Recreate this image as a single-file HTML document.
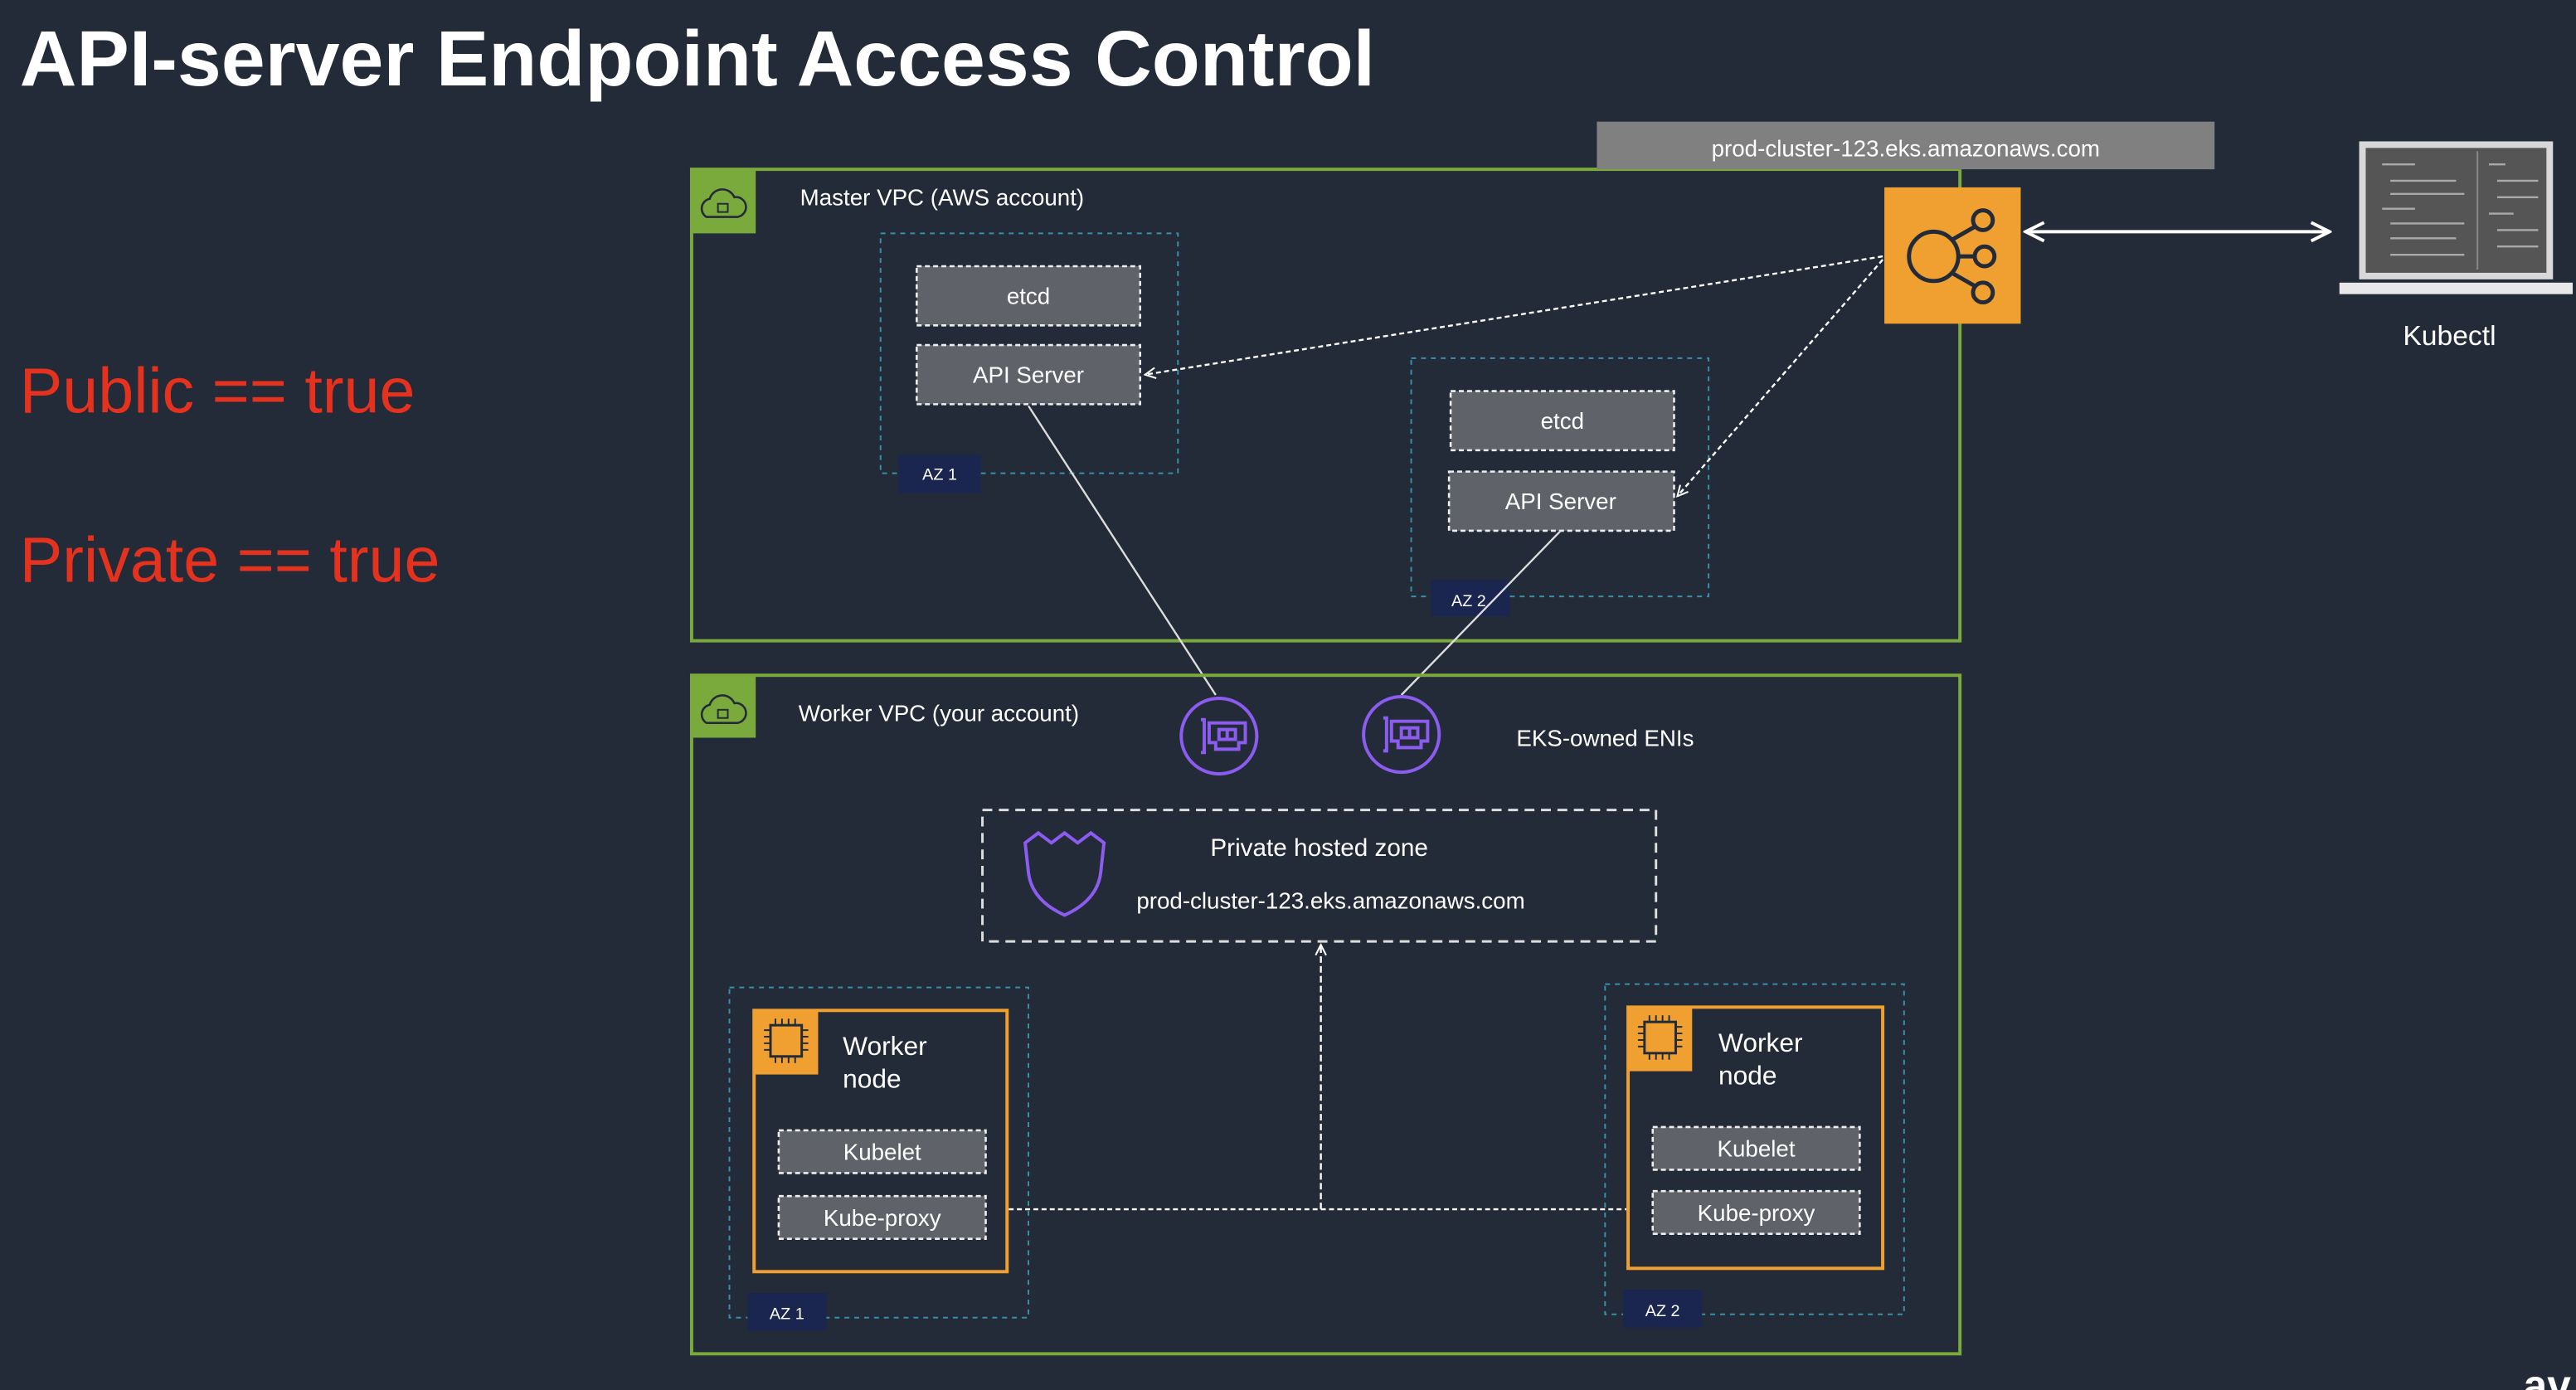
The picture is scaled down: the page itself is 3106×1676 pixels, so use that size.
<!DOCTYPE html>
<html><head><meta charset="utf-8"><style>
html,body{margin:0;padding:0;background:#232b38;}
svg{display:block;}
text{font-family:"Liberation Sans",sans-serif;fill:#fff;}
</style></head><body>
<svg width="3106" height="1676" viewBox="0 0 1568 846" xmlns="http://www.w3.org/2000/svg">
<defs>
<marker id="ah" viewBox="0 0 10 10" refX="9" refY="5" markerWidth="8" markerHeight="8" orient="auto-start-reverse" markerUnits="userSpaceOnUse"><path d="M1,1 L9,5 L1,9" fill="none" stroke="#fff" stroke-width="1.3"/></marker>
<marker id="ah2" viewBox="0 0 10 10" refX="9" refY="5" markerWidth="14" markerHeight="14" orient="auto-start-reverse" markerUnits="userSpaceOnUse"><path d="M1,1 L9,5 L1,9" fill="none" stroke="#fff" stroke-width="1.4"/></marker>
</defs>
<rect width="1568" height="846" fill="#232b38"/>
<text x="12" y="52" font-size="48" font-weight="bold">API-server Endpoint Access Control</text>
<text x="12" y="251" font-size="39" style="fill:#e5321f">Public == true</text>
<text x="12" y="354" font-size="39" style="fill:#e5321f">Private == true</text>

<!-- Master VPC -->
<rect x="421" y="103" width="772" height="287" fill="none" stroke="#7aa93c" stroke-width="2"/>
<rect x="421" y="103" width="39" height="39" fill="#7aa93c"/>
<path d="M430,132 a6,6 0 0 1 2,-11 a8,8 0 0 1 15,-1 a6,6 0 0 1 2,12 z" fill="none" stroke="#232b38" stroke-width="1.3"/>
<rect x="437" y="124" width="6" height="5" fill="none" stroke="#232b38" stroke-width="1"/>
<text x="487" y="125" font-size="14">Master VPC (AWS account)</text>

<rect x="972" y="74" width="376" height="29" fill="#808080"/>
<text x="1160" y="95" font-size="14" text-anchor="middle">prod-cluster-123.eks.amazonaws.com</text>

<rect x="1147" y="114" width="83" height="83" fill="#f0a030"/>
<g fill="none" stroke="#232b38" stroke-width="2.5">
<circle cx="1177" cy="156" r="15"/><circle cx="1207" cy="134" r="6"/><circle cx="1208" cy="156" r="6"/><circle cx="1207" cy="178" r="6"/>
<line x1="1188" y1="146" x2="1202" y2="138"/><line x1="1192" y1="156" x2="1202" y2="156"/><line x1="1188" y1="166" x2="1202" y2="174"/>
</g>
<line x1="1233" y1="141" x2="1418" y2="141" stroke="#fff" stroke-width="2" marker-start="url(#ah2)" marker-end="url(#ah2)"/>

<!-- laptop -->
<rect x="1436" y="86" width="118" height="84" fill="#d8d8d8"/>
<rect x="1440" y="90" width="110" height="76" fill="#555"/>
<line x1="1508" y1="92" x2="1508" y2="164" stroke="#888" stroke-width="1"/>
<g stroke="#aaa" stroke-width="1.2">
<line x1="1450" y1="100" x2="1470" y2="100"/><line x1="1455" y1="110" x2="1495" y2="110"/><line x1="1455" y1="118" x2="1500" y2="118"/><line x1="1450" y1="127" x2="1470" y2="127"/><line x1="1455" y1="136" x2="1500" y2="136"/><line x1="1455" y1="145" x2="1495" y2="145"/><line x1="1455" y1="155" x2="1500" y2="155"/>
<line x1="1515" y1="100" x2="1525" y2="100"/><line x1="1520" y1="110" x2="1545" y2="110"/><line x1="1520" y1="120" x2="1545" y2="120"/><line x1="1515" y1="130" x2="1530" y2="130"/><line x1="1520" y1="140" x2="1545" y2="140"/><line x1="1520" y1="150" x2="1545" y2="150"/>
</g>
<rect x="1424" y="172" width="142" height="7" fill="#e8e8e8"/>
<text x="1491" y="210" font-size="17" text-anchor="middle">Kubectl</text>

<!-- AZ1 master -->
<rect x="536" y="142" width="181" height="146" fill="none" stroke="#3a8fa8" stroke-width="1" stroke-dasharray="3,3"/>
<rect x="558" y="162" width="136" height="36" fill="#5f6269" stroke="#eee" stroke-width="1.3" stroke-dasharray="3,2"/>
<text x="626" y="185" font-size="14" text-anchor="middle">etcd</text>
<rect x="558" y="210" width="136" height="36" fill="#5f6269" stroke="#eee" stroke-width="1.3" stroke-dasharray="3,2"/>
<text x="626" y="233" font-size="14" text-anchor="middle">API Server</text>
<rect x="547" y="277" width="50" height="23" fill="#1a2550"/>
<text x="572" y="292" font-size="10" text-anchor="middle">AZ 1</text>

<!-- AZ2 master -->
<rect x="859" y="218" width="181" height="145" fill="none" stroke="#3a8fa8" stroke-width="1" stroke-dasharray="3,3"/>
<rect x="883" y="238" width="136" height="36" fill="#5f6269" stroke="#eee" stroke-width="1.3" stroke-dasharray="3,2"/>
<text x="951" y="261" font-size="14" text-anchor="middle">etcd</text>
<rect x="882" y="287" width="137" height="36" fill="#5f6269" stroke="#eee" stroke-width="1.3" stroke-dasharray="3,2"/>
<text x="950" y="310" font-size="14" text-anchor="middle">API Server</text>
<rect x="871" y="353" width="48" height="22" fill="#1a2550"/>
<text x="894" y="369" font-size="10" text-anchor="middle">AZ 2</text>

<line x1="1146" y1="156" x2="697" y2="228" stroke="#fff" stroke-width="1.2" stroke-dasharray="3,2" marker-end="url(#ah)"/>
<line x1="1146" y1="158" x2="1021" y2="302" stroke="#fff" stroke-width="1.2" stroke-dasharray="3,2" marker-end="url(#ah)"/>
<line x1="626" y1="247" x2="740" y2="423" stroke="#ddd" stroke-width="1.2"/>
<line x1="950" y1="323" x2="853" y2="423" stroke="#ddd" stroke-width="1.2"/>

<!-- Worker VPC -->
<rect x="421" y="411" width="772" height="413" fill="none" stroke="#7aa93c" stroke-width="2"/>
<rect x="421" y="411" width="39" height="38" fill="#7aa93c"/>
<path d="M430,440 a6,6 0 0 1 2,-11 a8,8 0 0 1 15,-1 a6,6 0 0 1 2,12 z" fill="none" stroke="#232b38" stroke-width="1.3"/>
<rect x="437" y="432" width="6" height="5" fill="none" stroke="#232b38" stroke-width="1"/>
<text x="486" y="439" font-size="14">Worker VPC (your account)</text>

<g fill="none" stroke="#8c5cf0" stroke-width="2">
<circle cx="742" cy="448" r="23"/><circle cx="853" cy="447" r="23"/>
<path d="M731,438 h2 v20 h-2 M736,440 h22 v12 h-4 v4 h-14 v-4 h-4 z M742,444 h10 v6 h-10 z M747,444 v6"/>
<path d="M842,437 h2 v20 h-2 M847,439 h22 v12 h-4 v4 h-14 v-4 h-4 z M853,443 h10 v6 h-10 z M858,443 v6"/>
</g>
<text x="923" y="454" font-size="14">EKS-owned ENIs</text>

<rect x="598" y="493" width="410" height="80" fill="none" stroke="#ddd" stroke-width="1.5" stroke-dasharray="6,4"/>
<path d="M624,513 L632,507 L640,513 L648,507 L656,513 L664,507 L672,513 L670,531 Q668,548 648,557 Q628,548 626,531 Z" fill="none" stroke="#8c5cf0" stroke-width="2"/>
<text x="803" y="521" font-size="15" text-anchor="middle">Private hosted zone</text>
<text x="810" y="553" font-size="14" text-anchor="middle">prod-cluster-123.eks.amazonaws.com</text>

<line x1="804" y1="736" x2="804" y2="575" stroke="#fff" stroke-width="1.2" stroke-dasharray="4,2" marker-end="url(#ah)"/>
<line x1="614" y1="736" x2="990" y2="736" stroke="#fff" stroke-width="1.2" stroke-dasharray="3,2"/>

<!-- Worker AZ1 -->
<rect x="444" y="601" width="182" height="201" fill="none" stroke="#3a8fa8" stroke-width="1" stroke-dasharray="3,3"/>
<rect x="459" y="615" width="154" height="159" fill="none" stroke="#f0a030" stroke-width="2"/>
<rect x="459" y="615" width="39" height="39" fill="#f0a030"/>
<rect x="469" y="624" width="19" height="19" fill="none" stroke="#232b38" stroke-width="1.5"/>
<path d="M472,620 v4 M476,620 v4 M480,620 v4 M484,620 v4 M472,643 v4 M476,643 v4 M480,643 v4 M484,643 v4 M465,627 h4 M465,631 h4 M465,635 h4 M465,639 h4 M488,627 h4 M488,631 h4 M488,635 h4 M488,639 h4" stroke="#232b38" stroke-width="1"/>
<text x="513" y="642" font-size="16">Worker</text>
<text x="513" y="662" font-size="16">node</text>
<rect x="474" y="688" width="126" height="26" fill="#5f6269" stroke="#eee" stroke-width="1.3" stroke-dasharray="3,2"/>
<text x="537" y="706" font-size="14" text-anchor="middle">Kubelet</text>
<rect x="474" y="728" width="126" height="26" fill="#5f6269" stroke="#eee" stroke-width="1.3" stroke-dasharray="3,2"/>
<text x="537" y="746" font-size="14" text-anchor="middle">Kube-proxy</text>
<rect x="455" y="787" width="48" height="23" fill="#1a2550"/>
<text x="479" y="803" font-size="10" text-anchor="middle">AZ 1</text>

<!-- Worker AZ2 -->
<rect x="977" y="599" width="182" height="201" fill="none" stroke="#3a8fa8" stroke-width="1" stroke-dasharray="3,3"/>
<rect x="991" y="613" width="155" height="159" fill="none" stroke="#f0a030" stroke-width="2"/>
<rect x="991" y="613" width="39" height="39" fill="#f0a030"/>
<rect x="1001" y="622" width="19" height="19" fill="none" stroke="#232b38" stroke-width="1.5"/>
<path d="M1004,618 v4 M1008,618 v4 M1012,618 v4 M1016,618 v4 M1004,641 v4 M1008,641 v4 M1012,641 v4 M1016,641 v4 M997,625 h4 M997,629 h4 M997,633 h4 M997,637 h4 M1020,625 h4 M1020,629 h4 M1020,633 h4 M1020,637 h4" stroke="#232b38" stroke-width="1"/>
<text x="1046" y="640" font-size="16">Worker</text>
<text x="1046" y="660" font-size="16">node</text>
<rect x="1006" y="686" width="126" height="26" fill="#5f6269" stroke="#eee" stroke-width="1.3" stroke-dasharray="3,2"/>
<text x="1069" y="704" font-size="14" text-anchor="middle">Kubelet</text>
<rect x="1006" y="725" width="126" height="26" fill="#5f6269" stroke="#eee" stroke-width="1.3" stroke-dasharray="3,2"/>
<text x="1069" y="743" font-size="14" text-anchor="middle">Kube-proxy</text>
<rect x="988" y="785" width="48" height="23" fill="#1a2550"/>
<text x="1012" y="801" font-size="10" text-anchor="middle">AZ 2</text>

<text x="1536" y="852" font-size="26" font-weight="bold">av</text>
</svg>
</body></html>
